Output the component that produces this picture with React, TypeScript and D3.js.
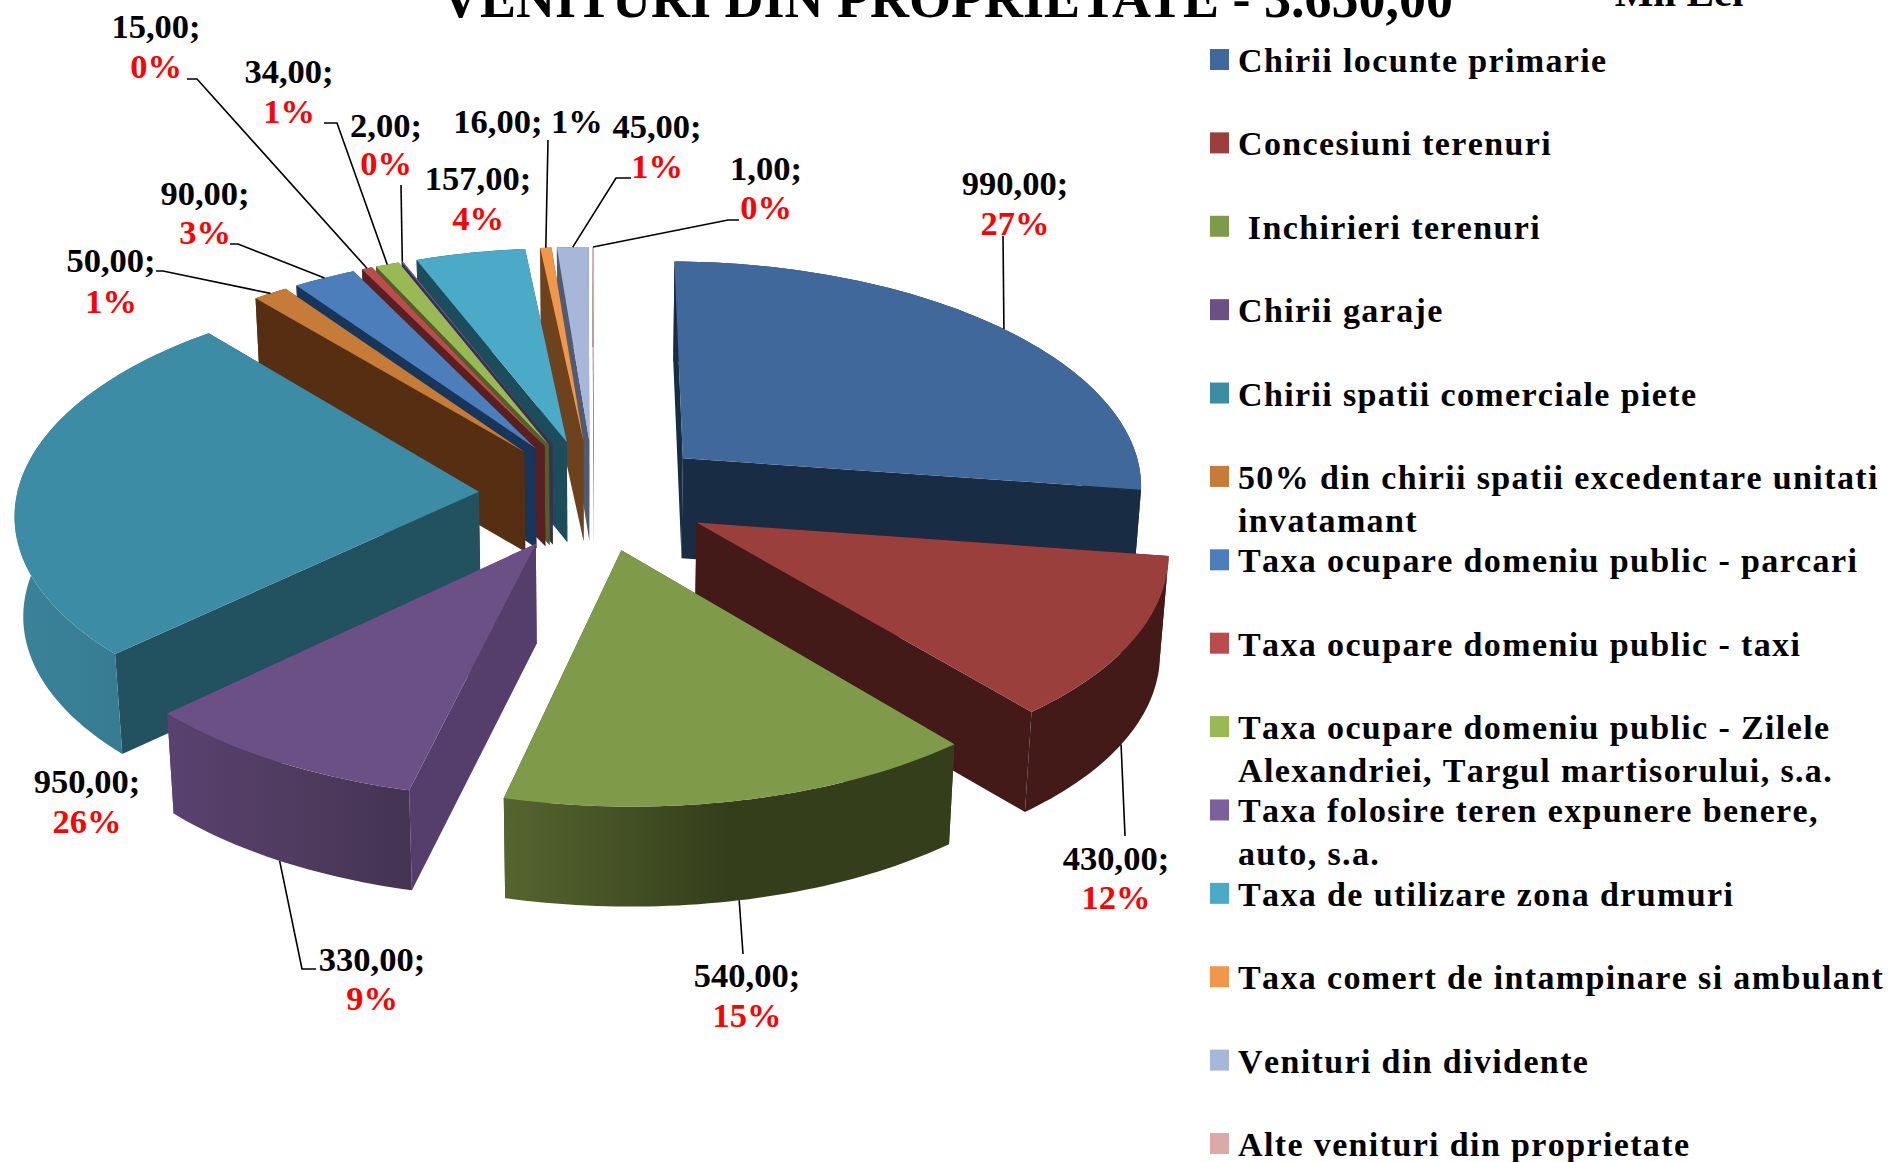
import React, { useEffect, useRef } from "react";
import * as d3 from "d3";

const categories = [
  "Chirii locunte primarie",
  "Concesiuni terenuri",
  " Inchirieri terenuri",
  "Chirii garaje",
  "Chirii spatii comerciale piete",
  "50% din chirii spatii excedentare unitati|invatamant",
  "Taxa ocupare domeniu public - parcari",
  "Taxa ocupare domeniu public - taxi",
  "Taxa ocupare domeniu public - Zilele|Alexandriei, Targul martisorului, s.a.",
  "Taxa folosire teren expunere benere,|auto, s.a.",
  "Taxa de utilizare zona drumuri",
  "Taxa comert de intampinare si ambulant",
  "Venituri din dividente",
  "Alte venituri din proprietate",
];
const values = [990, 430, 540, 330, 950, 50, 90, 15, 34, 2, 157, 16, 45, 1];
const percentLabels = ["27%", "12%", "15%", "9%", "26%", "1%", "3%", "0%", "1%", "0%", "4%", "1%", "1%", "0%"];
const topColors = ["#41689b", "#9b3f3c", "#7f9a48", "#6a5085", "#3d8ca5", "#c67b38", "#4d7ebc", "#ba4d4b", "#98b954", "#7b609d", "#4aaac7", "#f0974a", "#a6b7d9", "#dca9a8"];
const wallColors = ["#182c44", "#431a18", "#3a4420", "#563e6c", "#22525f", "#562f13", "#17365a", "#5a2020", "#4f6129", "#3c2d54", "#1d4d5a", "#6d421d", "#4f5b73", "#6f4a4a"];
const rimColors = [
  ["#182c44", "#182c44"],
  ["#431a18", "#431a18"],
  ["#56652f", "#343e1b", "#343e1b"],
  ["#5a4170", "#4f3c60", "#453353"],
  ["#3b8298", "#33768d"],
  ["#562f13", "#562f13"],
  ["#17365a", "#17365a"],
  ["#5a2020", "#5a2020"],
  ["#4f6129", "#4f6129"],
  ["#3c2d54", "#3c2d54"],
  ["#1d4d5a", "#1d4d5a"],
  ["#6d421d", "#6d421d"],
  ["#4f5b73", "#4f5b73"],
  ["#6f4a4a", "#6f4a4a"],
];
// back slices first, right to left, then the big ones towards the viewer
const drawOrder = [13, 12, 11, 10, 9, 8, 7, 6, 5, 4, 0, 1, 3, 2];

// text centre x, value baseline, percent baseline (percent null: same line)
const labelLayout = [
  { x: 1015, y: 195, py: 235 },
  { x: 1116, y: 870, py: 909 },
  { x: 747, y: 987, py: 1027 },
  { x: 372, y: 971, py: 1010 },
  { x: 87, y: 793, py: 833 },
  { x: 111, y: 272, py: 313 },
  { x: 205, y: 205, py: 244 },
  { x: 156, y: 38, py: 78 },
  { x: 289, y: 83, py: 123 },
  { x: 386, y: 137, py: 175 },
  { x: 478, y: 190, py: 230 },
  { x: 528, y: 133, py: null },
  { x: 657, y: 138, py: 178 },
  { x: 766, y: 180, py: 219 },
];
// frac: where on the rim the line starts; low: starts on the lower rim
const leaders = [
  { i: 0, frac: 0.51, low: false, pts: [[1003, 236]] },
  { i: 1, frac: 0.53, low: true, pts: [[1125, 836]] },
  { i: 2, frac: 0.51, low: true, pts: [[743, 954]] },
  { i: 3, frac: 0.5, low: true, pts: [[302, 969], [316, 969]] },
  { i: 5, frac: 0.5, low: false, pts: [[163, 271], [156, 271]] },
  { i: 6, frac: 0.5, low: false, pts: [[238, 244], [230, 244]] },
  { i: 7, frac: 0.5, low: false, pts: [[197, 79], [187, 79]] },
  { i: 8, frac: 0.5, low: false, pts: [[337, 123], [324, 123]] },
  { i: 9, frac: 0.5, low: false, pts: [[401, 185]] },
  { i: 11, frac: 0.5, low: false, pts: [[548, 140]] },
  { i: 12, frac: 0.5, low: false, pts: [[616, 178], [631, 178]] },
  { i: 13, frac: 0.5, low: false, pts: [[728, 220], [739, 220]] },
];

const W = 1894;
const H = 1162;
const cx = 594;
const cy = 495;
const radiusX = 462;
const radiusY = 221.5;
const skew = 6;
const perspX = 0.1;
const perspY = 0.093;
const firstAngle = 0.012;
const explode = [0.26, 0.25, 0.25, 0.25, 0.25, 0.25, 0.25, 0.25, 0.25, 0.25, 0.25, 0.25, 0.25, 0.25];
const depth = 100;
const lowerShrink = 0.985;
const font = "'Liberation Serif', serif";
const labelSize = 34.5;

// ground plane of the pie to the screen
const project = (wx: number, wy: number): [number, number] => {
  const sx = 1 / (1 + perspX * wy);
  const sy = 1 / (1 + perspY * wy);
  return [cx + (radiusX * wx - skew * wy) * sx, cy - radiusY * wy * sy];
};
const lower = (p: [number, number]): [number, number] => [cx + (p[0] - cx) * lowerShrink, p[1] + depth];

export default function App() {
  const ref = useRef<SVGSVGElement>(null);

  useEffect(() => {
    const svg = d3.select(ref.current);
    svg.selectAll("*").remove();

    const arcs = d3.pie<number>().sort(null).value(d => d)
      .startAngle(firstAngle).endAngle(firstAngle + 2 * Math.PI)(values);
    const line = d3.line();
    const defs = svg.append("defs");

    const sliceGeom = arcs.map((a, i) => {
      const mid = (a.startAngle + a.endAngle) / 2;
      const ox = explode[i] * Math.sin(mid);
      const oy = explode[i] * Math.cos(mid);
      const at = (t: number) => project(ox + Math.sin(t), oy + Math.cos(t));
      const n = Math.max(2, Math.ceil((a.endAngle - a.startAngle) / 0.02));
      const rim = d3.range(n + 1).map(k => at(a.startAngle + ((a.endAngle - a.startAngle) * k) / n));
      return { apex: project(ox, oy), rim, at, a };
    });

    drawOrder.forEach(i => {
      const { apex, rim } = sliceGeom[i];
      const first = rim[0];
      const last = rim[rim.length - 1];
      const g = svg.append("g");

      const wall = (a: [number, number], b: [number, number]) =>
        g.append("path")
          .attr("d", line([a, b, lower(b), lower(a)]) + "Z")
          .attr("fill", wallColors[i]);
      wall(apex, first);
      wall(apex, last);

      const xs = d3.extent(rim, p => p[0]) as [number, number];
      const grad = defs.append("linearGradient")
        .attr("id", "rim" + i)
        .attr("gradientUnits", "userSpaceOnUse")
        .attr("x1", xs[0]).attr("x2", xs[1]).attr("y1", 0).attr("y2", 0);
      rimColors[i].forEach((c, k) => {
        grad.append("stop").attr("offset", k / (rimColors[i].length - 1)).attr("stop-color", c);
      });
      g.append("path")
        .attr("d", line([...rim, ...rim.map(lower).reverse()]) + "Z")
        .attr("fill", `url(#rim${i})`);

      g.append("path")
        .attr("d", line([apex, ...rim]) + "Z")
        .attr("fill", topColors[i]);
    });

    // leader lines
    leaders.forEach(l => {
      const { at, a } = sliceGeom[l.i];
      const start = at(a.startAngle + (a.endAngle - a.startAngle) * l.frac);
      const p0 = l.low ? lower(start) : start;
      svg.append("path")
        .attr("d", line([p0, ...(l.pts as [number, number][])]))
        .attr("fill", "none")
        .attr("stroke", "#000")
        .attr("stroke-width", 1.6);
    });

    // data labels
    const fmt = (v: number) => d3.format(".2f")(v).replace(".", ",") + ";";
    values.forEach((v, i) => {
      const pos = labelLayout[i];
      if (pos.py === null) {
        svg.append("text")
          .attr("x", pos.x).attr("y", pos.y)
          .attr("text-anchor", "middle")
          .attr("font-family", font).attr("font-weight", "bold").attr("font-size", labelSize)
          .text(fmt(v) + " " + percentLabels[i]);
        return;
      }
      svg.append("text")
        .attr("x", pos.x).attr("y", pos.y)
        .attr("text-anchor", "middle")
        .attr("font-family", font).attr("font-weight", "bold").attr("font-size", labelSize)
        .text(fmt(v));
      svg.append("text")
        .attr("x", pos.x).attr("y", pos.py)
        .attr("text-anchor", "middle")
        .attr("font-family", font).attr("font-weight", "bold").attr("font-size", labelSize)
        .attr("fill", "#ff0000")
        .text(percentLabels[i]);
    });

    // legend
    const rowY = d3.scaleLinear().domain([0, 13]).range([72, 1156]);
    categories.forEach((name, i) => {
      const y = rowY(i);
      svg.append("rect")
        .attr("x", 1210).attr("y", y - 23).attr("width", 19).attr("height", 21)
        .attr("fill", topColors[i]);
      name.split("|").forEach((t, k) => {
        svg.append("text")
          .attr("x", 1238).attr("y", y + k * 43)
          .style("white-space", "pre")
          .style("font-kerning", "none")
          .attr("font-family", font).attr("font-weight", "bold").attr("font-size", 34)
          .attr("letter-spacing", 1.37)
          .text(t);
      });
    });

    // title, cut by the top of the page
    svg.append("text")
      .attr("x", 947).attr("y", 17)
      .attr("text-anchor", "middle")
      .attr("font-family", font).attr("font-weight", "bold").attr("font-size", 54)
      .text("VENITURI DIN PROPRIETATE - 3.650,00");
    svg.append("text")
      .attr("x", 1679).attr("y", 6)
      .attr("text-anchor", "middle")
      .attr("font-family", font).attr("font-weight", "bold").attr("font-size", 41)
      .text("Mil Lei");
  }, []);

  return (
    <svg ref={ref} width={W} height={H} viewBox={`0 0 ${W} ${H}`}
      style={{ position: "absolute", left: 0, top: 0, display: "block", background: "#fff" }} />
  );
}
